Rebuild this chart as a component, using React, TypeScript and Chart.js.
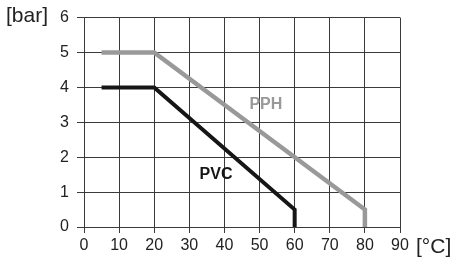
import React, { useEffect, useRef } from "react";
import { Chart, registerables } from "chart.js";

Chart.register(...registerables);

const pphX = [5, 20, 80, 80];
const pphY = [5, 5, 0.5, 0];
const pvcX = [5, 20, 60, 60];
const pvcY = [4, 4, 0.5, 0];
const xTicks = [0, 10, 20, 30, 40, 50, 60, 70, 80, 90];
const yTicks = [0, 1, 2, 3, 4, 5, 6];
const seriesLabels = ["PPH", "PVC"];
const labelPos = [
  { x: 51.8, y: 3.5 },
  { x: 37.6, y: 1.5 },
];
const yUnit = "[bar]";
const xUnit = "[°C]";

const FONT = "'Liberation Sans', Arial, Helvetica, sans-serif";
const GRAY = "#999999";
const BLACK = "#161616";
const GRID = "#3a3a3a";

export default function App() {
  const ref = useRef<HTMLCanvasElement | null>(null);
  useEffect(() => {
    if (!ref.current) return;
    const textPlugin = {
      id: "texts",
      afterDraw(chart: any) {
        const ctx = chart.ctx;
        const xs = chart.scales.x;
        const ys = chart.scales.y;
        ctx.save();
        ctx.textBaseline = "middle";
        ctx.font = `bold 16px ${FONT}`;
        ctx.textAlign = "center";
        const colors = [GRAY, BLACK];
        seriesLabels.forEach((l, i) => {
          ctx.fillStyle = colors[i];
          ctx.fillText(l, xs.getPixelForValue(labelPos[i].x), ys.getPixelForValue(labelPos[i].y));
        });
        ctx.fillStyle = "#222";
        ctx.font = `21px ${FONT}`;
        ctx.textAlign = "left";
        ctx.fillText(yUnit, 6, ys.getPixelForValue(6) - 1);
        ctx.fillText(xUnit, 416, 247);
        ctx.restore();
      },
    };
    const chart = new Chart(ref.current, {
      type: "scatter",
      data: {
        datasets: [
          {
            data: pphX.map((x, i) => ({ x, y: pphY[i] })),
            showLine: true,
            borderColor: GRAY,
            borderWidth: 4.5,
            pointRadius: 0,
            tension: 0,
          },
          {
            data: pvcX.map((x, i) => ({ x, y: pvcY[i] })),
            showLine: true,
            borderColor: BLACK,
            borderWidth: 4,
            pointRadius: 0,
            tension: 0,
          },
        ],
      },
      options: {
        animation: false,
        responsive: false,
        layout: { padding: { left: 0, right: 54, top: 16, bottom: 0 } },
        plugins: { legend: { display: false }, tooltip: { enabled: false } },
        scales: {
          x: {
            type: "linear",
            min: 0,
            max: 90,
            afterBuildTicks: (s: any) => {
              s.ticks = xTicks.map((v) => ({ value: v }));
            },
            afterFit: (s: any) => {
              s.height = 34;
            },
            grid: { color: GRID, lineWidth: 1, tickLength: 6, tickColor: GRID },
            border: { color: GRID, width: 1 },
            ticks: { color: "#222", font: { family: FONT, size: 16 }, padding: 3, maxRotation: 0, autoSkip: false },
          },
          y: {
            type: "linear",
            min: 0,
            max: 6,
            afterBuildTicks: (s: any) => {
              s.ticks = yTicks.map((v) => ({ value: v }));
            },
            afterFit: (s: any) => {
              s.width = 84;
            },
            grid: { color: GRID, lineWidth: 1, tickLength: 7, tickColor: GRID },
            border: { color: GRID, width: 1 },
            ticks: { color: "#222", font: { family: FONT, size: 16 }, padding: 8, autoSkip: false },
          },
        },
      },
      plugins: [textPlugin],
    } as any);
    return () => chart.destroy();
  }, []);
  return (
    <div style={{ position: "absolute", left: 0, top: 0, width: 454, height: 261, background: "#fff" }}>
      <canvas ref={ref} width={454} height={261} style={{ width: 454, height: 261 }} />
    </div>
  );
}
